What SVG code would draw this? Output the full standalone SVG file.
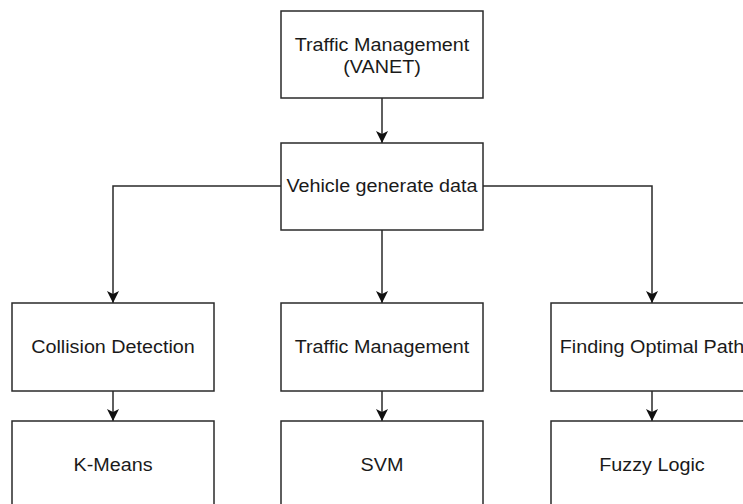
<svg xmlns="http://www.w3.org/2000/svg" width="743" height="504" viewBox="0 0 743 504">
<defs>
<style>
.box{fill:#fff;stroke:#2a2a2a;stroke-width:1.5}
.lbl{font-family:"Liberation Sans",Arial,Helvetica,sans-serif;font-size:17.5px;fill:#1a1a1a;text-anchor:middle}
.edge{fill:none;stroke:#2a2a2a;stroke-width:1.5}
</style>
<marker id="arr" viewBox="0 0 12 12" refX="12" refY="6" markerWidth="12" markerHeight="12" markerUnits="userSpaceOnUse" orient="auto">
<path d="M0,0 L12,6 L0,12 L3,6 z" fill="#111"/>
</marker>
</defs>
<rect width="743" height="504" fill="#fff"/>
<g id="connectors">
<path class="edge" d="M382,98 L382,143" marker-end="url(#arr)"/>
<path class="edge" d="M281,186 L113,186 L113,303" marker-end="url(#arr)"/>
<path class="edge" d="M382,230 L382,303" marker-end="url(#arr)"/>
<path class="edge" d="M483,186 L652,186 L652,303" marker-end="url(#arr)"/>
<path class="edge" d="M113,391 L113,421" marker-end="url(#arr)"/>
<path class="edge" d="M382,391 L382,421" marker-end="url(#arr)"/>
<path class="edge" d="M652,391 L652,421" marker-end="url(#arr)"/>
</g>
<g id="n-traffic-vanet">
<rect class="box" x="281" y="11" width="202" height="87"/>
<text class="lbl" transform="translate(382 51.3) scale(1.13 1)">Traffic Management</text>
<text class="lbl" transform="translate(382 73.3) scale(1.13 1)">(VANET)</text>
</g>
<g id="n-vehicle">
<rect class="box" x="281" y="143" width="202" height="87"/>
<text class="lbl" transform="translate(382 191.7) scale(1.13 1)">Vehicle generate data</text>
</g>
<g id="n-collision">
<rect class="box" x="12" y="303" width="202" height="88"/>
<text class="lbl" transform="translate(113 353.3) scale(1.13 1)">Collision Detection</text>
</g>
<g id="n-traffic">
<rect class="box" x="281" y="303" width="202" height="88"/>
<text class="lbl" transform="translate(382 353.3) scale(1.13 1)">Traffic Management</text>
</g>
<g id="n-path">
<rect class="box" x="551" y="303" width="202" height="88"/>
<text class="lbl" transform="translate(652 353.3) scale(1.13 1)">Finding Optimal Path</text>
</g>
<g id="n-kmeans">
<rect class="box" x="12" y="421" width="202" height="88"/>
<text class="lbl" transform="translate(113 470.7) scale(1.13 1)">K-Means</text>
</g>
<g id="n-svm">
<rect class="box" x="281" y="421" width="202" height="88"/>
<text class="lbl" transform="translate(382 470.7) scale(1.13 1)">SVM</text>
</g>
<g id="n-fuzzy">
<rect class="box" x="551" y="421" width="202" height="88"/>
<text class="lbl" transform="translate(652 470.7) scale(1.13 1)">Fuzzy Logic</text>
</g>
</svg>
